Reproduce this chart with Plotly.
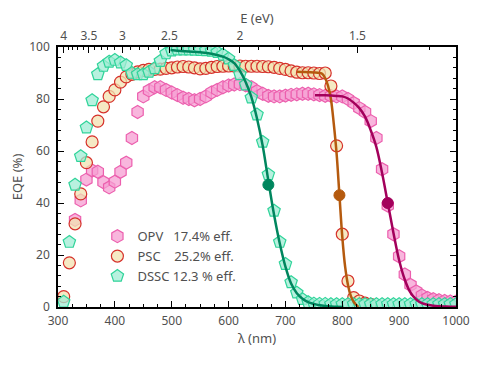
import plotly.graph_objects as go

# ---------------- data ----------------
wl_opv = list(range(330, 1001, 10))
eqe_opv = [33.5, 41, 49, 52.5, 52, 48, 46, 48.2, 52, 55.5,
           65, 75, 81, 83.3, 84.5, 84.5, 83.5, 82.5, 81.5, 80.5,
           80, 79.5, 80, 81, 82.5, 83.5, 84.5, 85.2, 85.6, 85.7,
           85.3, 84.5, 83, 82, 81.2, 81, 81, 81.3, 81.6, 81.8,
           82, 82, 81.8, 81.5, 81.2, 81.2, 81, 81, 80, 78.5,
           76.5, 75, 71.5, 65, 53, 39, 28, 19.5, 12.5, 8.5,
           6, 4.4, 3.5, 3, 2.6, 2.3, 2.1, 2]

wl_psc = list(range(310, 851, 10))
eqe_psc = [4, 17, 32, 43.5, 55.5, 63.5, 71.5, 77, 81, 83.5,
           86.5, 88.5, 89.5, 90.4, 91, 91.4, 91.4, 91.5, 91.8, 92,
           92.3, 92.5, 92.3, 92, 91.6, 91.8, 92.2, 92.5, 92.6, 92.7,
           92.7, 92.7, 92.6, 92.6, 92.6, 92.5, 92.4, 92.2, 91.8, 91.4,
           90.8, 90.3, 90.1, 90.1, 90, 89.8, 90, 85, 62, 28,
           10, 3.6, 2.3, 1.5, 1]

wl_dssc = list(range(310, 1001, 10))
eqe_dssc = [2, 25, 47, 58, 69, 79.5, 89.5, 92.7, 94.3, 95,
            94, 93, 90, 89.5, 89.5, 90.4, 91.8, 94.6, 97.5, 98.6,
            99, 99, 99, 98.9, 98.8, 98.7, 98.5, 98, 97, 95.5,
            93, 89.5, 85.5, 80.5, 74, 63.5, 51, 37, 25, 16.5,
            9.5, 5.5, 3, 1.8, 1.3, 1.2, 1.2, 1.1, 1.1, 1.1,
            1.1, 1.1, 1.1, 1.1, 1.1, 1.1, 1.1, 1.1, 1.1, 1.1,
            1.1, 1.1, 1.1, 1.1, 1.1, 1.1, 1.1, 1.1, 1.1, 1.1]

# fitted curves
fit_dssc_x = [498, 510, 530, 550, 570, 590, 600, 610, 620, 630, 640, 650, 660, 670,
              680, 690, 700, 710, 720, 730, 740, 750, 760, 770, 780, 790, 800]
fit_dssc_y = [98.8, 98.6, 98.3, 98, 97.4, 96.3, 95.3, 93.8, 90.8, 86.5, 80.8, 72.5, 62, 48.5,
              35.5, 24.5, 15.5, 9, 5.3, 3.2, 1.9, 1.2, 0.7, 0.4, 0.2, 0.1, 0]

fit_psc_x = [720, 730, 740, 750, 760, 765, 770, 775, 780, 785, 790, 795,
             800, 805, 810, 815, 820, 825, 828]
fit_psc_y = [90.5, 90.4, 90.3, 90.2, 90, 89.6, 88, 85, 80, 70.5, 59, 43,
             27, 15.5, 8.5, 4.3, 2.0, 0.7, 0]

fit_opv_x = [752, 770, 790, 800, 810, 820, 830, 840, 850, 860, 870, 880, 890,
             900, 910, 920, 930, 940, 950, 960, 970, 980, 990, 1000]
fit_opv_y = [81.4, 81.4, 81.2, 81, 80.2, 78.6, 76.5, 73.2, 68, 61.5, 51.5, 40, 28.5,
             18, 10.5, 5.5, 2.9, 1.5, 0.9, 0.5, 0.3, 0.2, 0.1, 0.1]

# mid-points (large dots)
mid_x = [880, 795, 670]
mid_y = [40, 43, 47]
mid_colors = ["#a3005b", "#b55a0e", "#00865e"]

labels = ["OPV\u00a0\u00a0\u00a017.4% eff.",
          "PSC\u00a0\u00a0\u00a0\u00a025.2% eff.",
          "DSSC\u00a012.3\u00a0% eff."]

# top axis (photon energy)
E_major = [4, 3.5, 3, 2.5, 2, 1.5]
E_labels = ["4", "3.5", "3", "2.5", "2", "1.5"]
E_minor = [4.0, 3.9, 3.8, 3.7, 3.6, 3.4, 3.3, 3.2, 3.1, 2.9, 2.8, 2.7, 2.6,
           2.4, 2.3, 2.2, 2.1, 1.9, 1.8, 1.7, 1.6, 1.4, 1.3]
HC = 1240.0

# ---------------- figure ----------------
TXT = "#505050"
FONT = "Noto Sans"

fig = go.Figure()

fig.add_trace(go.Scatter(
    x=wl_opv, y=eqe_opv, mode="markers", name=labels[0],
    marker=dict(symbol="hexagon", size=13, color="rgba(246,158,210,0.75)",
                line=dict(color="#ec5fae", width=1.2))))
fig.add_trace(go.Scatter(
    x=wl_psc, y=eqe_psc, mode="markers", name=labels[1],
    marker=dict(symbol="circle", size=12, color="rgba(242,226,176,0.75)",
                line=dict(color="#d6312b", width=1.2))))
fig.add_trace(go.Scatter(
    x=wl_dssc, y=eqe_dssc, mode="markers", name=labels[2],
    marker=dict(symbol="pentagon", size=13, color="rgba(160,236,212,0.75)",
                line=dict(color="#30d49a", width=1.2))))

fig.add_trace(go.Scatter(x=fit_dssc_x, y=fit_dssc_y, mode="lines", showlegend=False,
                         line=dict(color="#00865e", width=2.5, shape="spline")))
fig.add_trace(go.Scatter(x=fit_psc_x, y=fit_psc_y, mode="lines", showlegend=False,
                         line=dict(color="#b55a0e", width=2.5, shape="spline")))
fig.add_trace(go.Scatter(x=fit_opv_x, y=fit_opv_y, mode="lines", showlegend=False,
                         line=dict(color="#a3005b", width=2.5, shape="spline")))
fig.add_trace(go.Scatter(x=mid_x, y=mid_y, mode="markers", showlegend=False,
                         marker=dict(size=11, color=mid_colors,
                                     line=dict(color=mid_colors, width=1))))

# dummy trace to activate top axis
fig.add_trace(go.Scatter(x=[300, 1000], y=[0, 0], xaxis="x2", mode="markers",
                         marker=dict(opacity=0), showlegend=False, hoverinfo="skip"))

axis_common = dict(showline=True, linecolor="black", linewidth=1.5,
                   ticks="inside", tickcolor="black", tickwidth=1, ticklen=6,
                   showgrid=False, zeroline=False, automargin=False,
                   tickfont=dict(family=FONT, size=12, color=TXT))

fig.update_layout(
    width=477, height=362,
    margin=dict(l=49.5, r=29, t=38.7, b=63.3),
    paper_bgcolor="white", plot_bgcolor="white",
    font=dict(family=FONT, size=12, color=TXT),
    showlegend=True,
    legend=dict(x=0.099, y=0.33, xanchor="left", yanchor="top",
                bgcolor="rgba(0,0,0,0)", font=dict(family=FONT, size=13, color=TXT),
                itemsizing="trace"),
    xaxis=dict(range=[300, 1000], dtick=100, mirror=False, ticklabelstandoff=2,
               title=dict(text="λ (nm)", font=dict(family=FONT, size=13, color=TXT), standoff=5),
               minor=dict(dtick=25, ticks="inside", ticklen=3, tickcolor="black"),
               **axis_common),
    xaxis2=dict(range=[300, 1000], overlaying="x", side="top",
                tickmode="array", tickvals=[HC / e for e in E_major], ticktext=E_labels,
                title=dict(text="E (eV)", font=dict(family=FONT, size=13, color=TXT), standoff=0),
                minor=dict(tickmode="array", tickvals=[HC / e for e in E_minor],
                           ticks="inside", ticklen=3, tickcolor="black"),
                **axis_common),
    yaxis=dict(range=[0, 100], dtick=20, mirror="ticks", ticklabelstandoff=4,
               title=dict(text="EQE (%)", font=dict(family=FONT, size=13, color=TXT), standoff=8),
               minor=dict(dtick=4, ticks="inside", ticklen=3, tickcolor="black"),
               **axis_common),
)

fig.write_html("out.html")
